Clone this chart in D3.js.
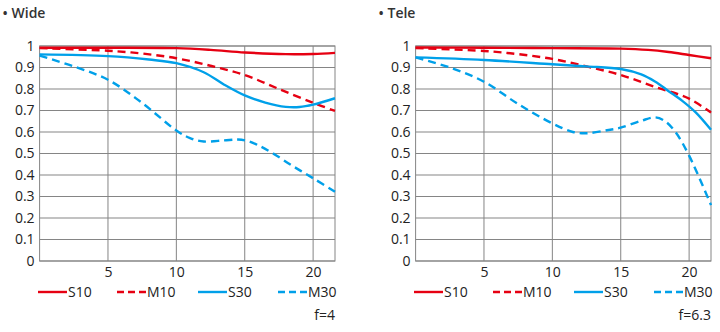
<!DOCTYPE html>
<html><head><meta charset="utf-8">
<script src="https://cdn.jsdelivr.net/npm/d3@7"></script>
<style>
html,body{margin:0;padding:0;background:#fff;}
svg{display:block;font-family:"Open Sans","Noto Sans",sans-serif;}
</style></head>
<body><svg id="c" width="720" height="332"></svg>
<script>
const panels = ["Wide", "Tele"];
const apertures = ["f=4", "f=6.3"];
const seriesNames = ["S10", "M10", "S30", "M30"];
const xTicks = [5, 10, 15, 20];
const yTicks = [0, 0.1, 0.2, 0.3, 0.4, 0.5, 0.6, 0.7, 0.8, 0.9, 1];
const yTickLabels = ["0", "0.1", "0.2", "0.3", "0.4", "0.5", "0.6", "0.7", "0.8", "0.9", "1"];

// Wide
const wideS10 = [[0,0.992],[5,0.992],[10,0.99],[12.5,0.982],[15,0.97],[18,0.962],[20,0.963],[21.6,0.968]];
const wideM10 = [[0,0.99],[5,0.978],[7.5,0.965],[10,0.943],[12.5,0.908],[15,0.865],[17.5,0.8],[20,0.736],[21.6,0.698]];
const wideS30 = [[0,0.961],[5,0.953],[8,0.937],[10,0.92],[12,0.878],[13.5,0.82],[15,0.77],[16.5,0.737],[18,0.717],[19,0.716],[20,0.727],[21.6,0.757]];
const wideM30 = [[0,0.955],[2.5,0.905],[5,0.843],[7.5,0.735],[10,0.607],[11,0.572],[12,0.556],[13.5,0.561],[14.5,0.565],[15.2,0.558],[16,0.538],[17,0.503],[18.5,0.442],[20,0.385],[21.6,0.322]];
// Tele
const teleS10 = [[0,0.993],[5,0.992],[10,0.99],[15,0.988],[17,0.982],[18.5,0.972],[20,0.958],[21.6,0.943]];
const teleM10 = [[0,0.99],[5,0.977],[7.5,0.962],[10,0.94],[12.5,0.905],[15,0.865],[17.5,0.81],[20,0.755],[21.6,0.69]];
const teleS30 = [[0,0.947],[5,0.935],[10,0.915],[12.5,0.905],[15,0.893],[16.5,0.868],[17.5,0.835],[18.5,0.79],[19.5,0.745],[20.5,0.69],[21.6,0.61]];
const teleM30 = [[0,0.947],[2.5,0.9],[5,0.834],[7.5,0.73],[10,0.64],[11.5,0.6],[12.5,0.594],[14,0.608],[15,0.62],[16.5,0.652],[17.5,0.668],[18.2,0.652],[19,0.6],[20,0.49],[21.6,0.26]];

const data = [[wideS10, wideM10, wideS30, wideM30],[teleS10, teleM10, teleS30, teleM30]];
const colors = ["#e60012", "#e60012", "#00a0e9", "#00a0e9"];
const dashed = [false, true, false, true];

const svg = d3.select("#c");
const plotLefts = [39.6, 415.6];
const plotW = 295.4;
const y = d3.scaleLinear().domain([0, 1]).range([261, 46]);

panels.forEach((name, p) => {
  const x = d3.scaleLinear().domain([0, 21.6]).range([plotLefts[p], plotLefts[p] + plotW]);
  const g = svg.append("g");
  g.append("text").attr("x", plotLefts[p] - 37).attr("y", 18)
    .attr("font-size", 14).attr("font-weight", 600).attr("fill", "#333")
    .text("\u2022 " + name);
  g.selectAll(".hg").data(yTicks).enter().append("line")
    .attr("x1", x(0)).attr("x2", x(21.6)).attr("y1", d => y(d)).attr("y2", d => y(d))
    .attr("stroke", "#858585").attr("stroke-width", 1);
  g.selectAll(".vg").data(xTicks).enter().append("line")
    .attr("x1", d => x(d)).attr("x2", d => x(d)).attr("y1", y(0)).attr("y2", y(1))
    .attr("stroke", "#858585").attr("stroke-width", 1);
  g.append("rect").attr("x", x(0)).attr("y", y(1)).attr("width", plotW).attr("height", y(0) - y(1))
    .attr("fill", "none").attr("stroke", "#858585").attr("stroke-width", 1);
  const yAxis = d3.axisLeft(y).tickValues(yTicks).tickFormat((d, i) => yTickLabels[i]).tickSize(0).tickPadding(5);
  const ya = g.append("g").attr("transform", `translate(${x(0)},0)`).call(yAxis);
  ya.select(".domain").remove();
  ya.selectAll("text").attr("font-size", 14).attr("fill", "#222").attr("font-family", "Open Sans");
  const xAxis = d3.axisBottom(x).tickValues(xTicks).tickFormat(d3.format("d")).tickSize(0).tickPadding(6);
  const xa = g.append("g").attr("transform", `translate(0,${y(0)})`).call(xAxis);
  xa.select(".domain").remove();
  xa.selectAll("text").attr("font-size", 14).attr("fill", "#222").attr("font-family", "Open Sans");
  const line = d3.line().x(d => x(d[0])).y(d => y(d[1])).curve(d3.curveCatmullRom.alpha(0.5));
  data[p].forEach((s, i) => {
    g.append("path").datum(s).attr("d", line).attr("fill", "none")
      .attr("stroke", colors[i]).attr("stroke-width", 2.4)
      .attr("stroke-dasharray", dashed[i] ? "8,5" : null);
  });
  const legX = [-1.6, 77.4, 158.4, 238.4];
  seriesNames.forEach((n, i) => {
    const lx = plotLefts[p] + legX[i];
    g.append("line").attr("x1", lx).attr("x2", lx + 29).attr("y1", 292).attr("y2", 292)
      .attr("stroke", colors[i]).attr("stroke-width", 2.4)
      .attr("stroke-dasharray", dashed[i] ? "7,4" : null);
    g.append("text").attr("x", lx + 30).attr("y", 297).attr("font-size", 14).attr("fill", "#222").text(n);
  });
  g.append("text").attr("x", x(21.6)).attr("y", 320).attr("text-anchor", "end")
    .attr("font-size", 14).attr("fill", "#222").text(apertures[p]);
});
</script></body></html>
